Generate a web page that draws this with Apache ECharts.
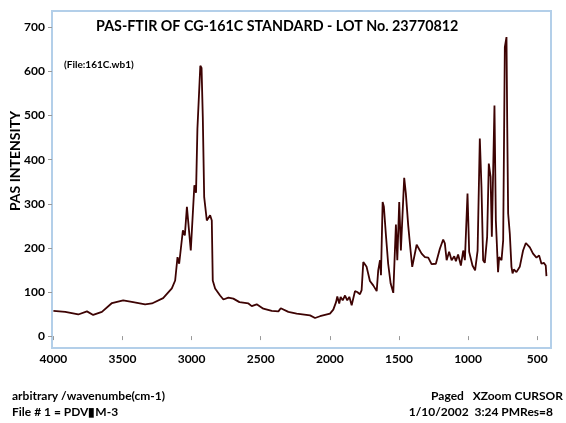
<!DOCTYPE html>
<html>
<head>
<meta charset="utf-8">
<script src="https://cdn.jsdelivr.net/npm/echarts@6/dist/echarts.min.js"></script>
<style>html,body{margin:0;padding:0;background:#fff}#c{width:566px;height:423px}</style>
</head>
<body>
<div id="c"></div>
<script>
const wavenumbers = [4000,3914,3820,3757,3712,3649,3576,3495,3423,3336,3287,3206,3143,3119,3102,3090,3063,3049,3034,3006,2980,2968,2958,2937,2928,2919,2909,2890,2878,2866,2854,2847,2830,2794,2770,2734,2698,2654,2589,2565,2529,2481,2420,2372,2355,2300,2240,2143,2107,2071,1999,1975,1955,1946,1932,1922,1907,1890,1874,1859,1842,1818,1802,1782,1770,1758,1746,1734,1710,1686,1661,1650,1637,1630,1618,1609,1594,1578,1560,1541,1529,1522,1512,1498,1486,1462,1450,1433,1416,1404,1372,1336,1312,1288,1264,1233,1204,1180,1168,1155,1137,1119,1100,1088,1072,1052,1035,1023,1004,992,968,949,931,915,903,891,879,862,850,837,828,809,799,783,775,758,746,734,722,717,710,698,686,678,669,650,626,602,582,553,530,505,486,469,452,438,433];
const intensity = [57,55,49,56,48,55,75,81,77,72,74,86,108,126,179,164,240,228,293,194,342,325,470,613,608,496,315,262,258,274,262,126,108,92,83,87,85,77,74,68,72,62,57,56,63,55,51,47,41,45,51,60,77,90,74,89,81,92,81,89,70,102,100,95,104,168,170,157,125,115,102,149,172,138,304,293,228,164,119,98,100,253,172,304,194,359,323,251,194,157,207,187,179,178,163,164,198,219,210,172,191,172,181,170,185,160,194,172,323,191,160,149,194,448,338,172,166,225,391,361,225,523,262,145,179,172,217,655,678,489,278,232,157,142,151,145,157,194,211,201,187,178,183,164,166,160,136];
const xTicks = [4000,3500,3000,2500,2000,1500,1000,500];
const yTicks = [0,100,200,300,400,500,600,700];
const titleText = 'PAS-FTIR OF CG-161C STANDARD - LOT No. 23770812';
const fileText = '(File:161C.wb1)';
const yName = 'PAS INTENSITY';
const footLeft1 = 'arbitrary /wavenumbe(cm-1)';
const footLeft2 = 'File # 1 = PDV\u25AEM-3';
const footRight1 = 'Paged   XZoom CURSOR';
const footRight2 = '1/10/2002  3:24 PMRes=8';

const FONT = 'Lato';
const chart = echarts.init(document.getElementById('c'));
const pts = wavenumbers.map((w, i) => [w, intensity[i]]);
chart.setOption({
  animation: false,
  backgroundColor: '#fff',
  grid: { left: 52, right: 15, top: 11, bottom: 75, show: true, borderColor: '#b3cfe9', borderWidth: 2, backgroundColor: '#fff' },
  xAxis: {
    type: 'value', inverse: true, min: 400, max: 4010, offset: 1,
    axisLine: { show: false },
    splitLine: { show: false },
    axisTick: { show: true, length: 4, customValues: xTicks, lineStyle: { color: '#999' } },
    axisLabel: { customValues: xTicks, formatter: v => String(v), color: '#000', fontWeight: 'bold', fontFamily: FONT, fontSize: 12, margin: 4 }
  },
  yAxis: {
    type: 'value', min: -27, max: 737,
    axisLine: { show: false },
    splitLine: { show: false },
    axisTick: { show: true, length: 4, customValues: yTicks, lineStyle: { color: '#999' } },
    axisLabel: { customValues: yTicks, color: '#000', fontWeight: 'bold', fontFamily: FONT, fontSize: 12, margin: 7 }
  },
  graphic: [
    { type: 'text', left: 96, top: 19, style: { text: titleText, fill: '#000', font: 'bold 14.3px ' + FONT } },
    { type: 'text', left: 64, top: 60, style: { text: fileText, fill: '#000', font: 'bold 10px ' + FONT } },
    { type: 'text', x: 15, y: 161, rotation: Math.PI / 2, style: { text: yName, fill: '#000', font: 'bold 14px ' + FONT, align: 'center', verticalAlign: 'middle' } },
    { type: 'text', left: 12, top: 390, style: { text: footLeft1, fill: '#000', font: 'bold 12px ' + FONT } },
    { type: 'text', left: 12, top: 406, style: { text: footLeft2, fill: '#000', font: 'bold 12px ' + FONT } },
    { type: 'text', right: 3, top: 390, style: { text: footRight1, fill: '#000', font: 'bold 12px ' + FONT } },
    { type: 'text', right: 13, top: 406, style: { text: footRight2, fill: '#000', font: 'bold 12px ' + FONT } }
  ],
  series: [{
    type: 'line', data: pts, showSymbol: false, symbol: 'none',
    lineStyle: { color: '#3d0303', width: 1.8 }
  }]
});
</script>
</body>
</html>
